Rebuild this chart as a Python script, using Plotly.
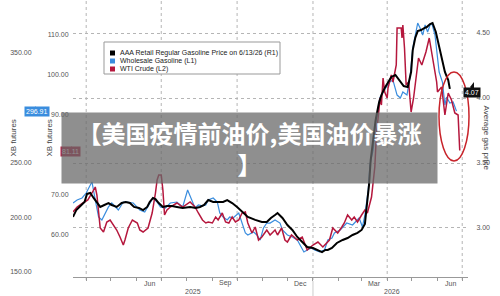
import plotly.graph_objects as go

# ---------------- data ----------------
aaa_dates = ["2025-03-16","2025-03-20","2025-03-25","2025-03-30","2025-04-02","2025-04-06","2025-04-10","2025-04-14",
             "2025-04-18","2025-04-23","2025-04-28","2025-05-02","2025-05-08","2025-05-14","2025-05-19","2025-05-24",
             "2025-05-29","2025-06-04","2025-06-09","2025-06-14","2025-06-17","2025-06-21","2025-06-24","2025-06-28",
             "2025-07-03","2025-07-08","2025-07-14","2025-07-20","2025-07-27","2025-08-05","2025-08-12","2025-08-17",
             "2025-08-22","2025-08-27","2025-09-02","2025-09-08","2025-09-14","2025-09-19","2025-09-25","2025-10-01",
             "2025-10-07","2025-10-14","2025-10-23","2025-10-31","2025-11-06","2025-11-11","2025-11-16","2025-11-19",
             "2025-11-25","2025-12-01","2025-12-07","2025-12-13","2025-12-19","2025-12-25","2026-01-01","2026-01-07",
             "2026-01-12","2026-01-16","2026-01-19","2026-01-24","2026-01-30","2026-02-06","2026-02-12","2026-02-18",
             "2026-02-24","2026-03-01","2026-03-05","2026-03-07","2026-03-10","2026-03-12","2026-03-15","2026-03-18",
             "2026-03-22","2026-03-25","2026-03-29","2026-04-02","2026-04-06","2026-04-11","2026-04-16","2026-04-21",
             "2026-04-26","2026-04-30","2026-05-02","2026-05-05","2026-05-08","2026-05-12","2026-05-16","2026-05-19",
             "2026-05-23","2026-05-26","2026-05-30","2026-06-03","2026-06-07","2026-06-10","2026-06-14","2026-06-16"]
aaa_vals = [3.085,3.138,3.169,3.200,3.262,3.269,3.231,3.200,
            3.162,3.177,3.192,3.177,3.162,3.192,3.200,3.192,
            3.162,3.154,3.138,3.162,3.200,3.231,3.223,3.192,
            3.162,3.169,3.169,3.162,3.154,3.162,3.154,3.162,
            3.177,3.215,3.200,3.200,3.200,3.215,3.192,3.162,
            3.123,3.085,3.062,3.046,3.046,3.077,3.100,3.115,
            3.077,3.023,2.985,2.931,2.892,2.854,2.846,2.831,
            2.815,2.831,2.831,2.846,2.885,2.908,2.923,2.946,
            2.962,2.985,3.031,3.154,3.331,3.523,3.662,3.831,
            3.962,4.023,4.077,4.123,4.162,4.177,4.138,4.092,
            4.085,4.200,4.369,4.462,4.515,4.523,4.538,4.546,
            4.569,4.577,4.508,4.400,4.292,4.200,4.138,4.07]

whs_dates = ["2025-03-16","2025-03-21","2025-03-27","2025-04-01","2025-04-06","2025-04-08","2025-04-12","2025-04-16",
             "2025-04-20","2025-04-24","2025-04-28","2025-05-02","2025-05-06","2025-05-10","2025-05-16","2025-05-20",
             "2025-05-28","2025-06-01","2025-06-05","2025-06-11","2025-06-17","2025-06-21","2025-06-26","2025-06-30",
             "2025-07-06","2025-07-12","2025-07-20","2025-07-27","2025-08-02","2025-08-07","2025-08-11","2025-08-15",
             "2025-08-20","2025-08-24","2025-08-27","2025-09-02","2025-09-07","2025-09-10","2025-09-14","2025-09-19",
             "2025-09-22","2025-09-26","2025-09-30","2025-10-03","2025-10-07","2025-10-11","2025-10-14","2025-10-21",
             "2025-10-25","2025-10-29","2025-11-02","2025-11-06","2025-11-10","2025-11-16","2025-11-22","2025-11-25",
             "2025-12-01","2025-12-07","2025-12-13","2025-12-18","2025-12-21","2025-12-25","2025-12-30","2026-01-03",
             "2026-01-09","2026-01-15","2026-01-19","2026-01-24","2026-01-27","2026-02-03","2026-02-11","2026-02-18",
             "2026-02-26","2026-03-02","2026-03-05","2026-03-09","2026-03-11","2026-03-15","2026-03-18","2026-03-21",
             "2026-03-23","2026-03-27","2026-04-01","2026-04-04","2026-04-08","2026-04-13","2026-04-17","2026-04-20",
             "2026-04-25","2026-04-29","2026-05-02","2026-05-06","2026-05-08","2026-05-12","2026-05-14","2026-05-17",
             "2026-05-20","2026-05-23","2026-05-25","2026-05-29","2026-06-01","2026-06-03","2026-06-07","2026-06-10",
             "2026-06-12","2026-06-16","2026-06-20","2026-06-24"]
whs_vals = [213.0,215.8,217.6,222.1,229.5,232.2,215.8,200.2,
            197.5,203.9,209.4,213.0,209.4,206.6,213.9,213.9,
            213.0,209.4,206.6,204.8,213.0,217.6,213.9,209.4,
            208.4,213.0,213.9,209.4,224.9,215.8,208.4,211.2,
            210.3,211.2,215.8,217.6,213.9,203.9,200.2,197.5,
            200.2,199.3,202.1,203.9,194.7,185.6,183.8,186.5,
            183.8,179.2,190.2,194.7,194.7,197.5,194.7,188.4,
            183.8,181.9,179.2,172.8,168.3,170.1,171.9,170.1,
            168.3,170.1,179.2,181.0,185.6,188.4,194.7,192.9,
            199.3,191.1,202.1,224.9,247.7,261.4,284.2,299.8,
            308.9,314.4,320.8,323.5,325.3,311.6,308.9,314.4,
            311.6,329.9,354.6,369.2,377.4,371.0,366.4,375.6,
            369.2,375.6,377.4,366.4,345.4,332.6,323.5,302.5,
            309.8,304.3,305.3,296.91]

wti_dates = ["2025-03-16","2025-03-21","2025-03-28","2025-04-03","2025-04-08","2025-04-12","2025-04-14","2025-04-16",
             "2025-04-18","2025-04-22","2025-04-26","2025-04-30","2025-05-04","2025-05-08","2025-05-12","2025-05-16",
             "2025-05-18","2025-05-22","2025-05-27","2025-06-02","2025-06-05","2025-06-09","2025-06-15","2025-06-20",
             "2025-06-24","2025-06-26","2025-06-28","2025-07-01","2025-07-03","2025-07-05","2025-07-08","2025-07-12",
             "2025-07-20","2025-07-27","2025-08-05","2025-08-11","2025-08-15","2025-08-20","2025-08-24","2025-08-27",
             "2025-09-01","2025-09-05","2025-09-08","2025-09-13","2025-09-17","2025-09-21","2025-09-25","2025-09-29",
             "2025-10-03","2025-10-07","2025-10-11","2025-10-14","2025-10-19","2025-10-23","2025-10-27","2025-10-31",
             "2025-11-06","2025-11-10","2025-11-16","2025-11-19","2025-11-24","2025-11-28","2025-12-01","2025-12-06",
             "2025-12-09","2025-12-13","2025-12-19","2025-12-25","2026-01-01","2026-01-07","2026-01-13","2026-01-18",
             "2026-01-21","2026-01-25","2026-01-27","2026-01-31","2026-02-05","2026-02-08","2026-02-12","2026-02-17",
             "2026-02-20","2026-02-24","2026-03-01","2026-03-05","2026-03-08","2026-03-13","2026-03-17","2026-03-19",
             "2026-03-22","2026-03-23","2026-03-25","2026-03-27","2026-03-29","2026-04-01","2026-04-02","2026-04-06",
             "2026-04-08","2026-04-12","2026-04-13","2026-04-18","2026-04-19","2026-04-20","2026-04-22","2026-04-24",
             "2026-04-27","2026-04-30","2026-05-03","2026-05-06","2026-05-09","2026-05-13","2026-05-18","2026-05-22",
             "2026-05-26","2026-05-31","2026-06-01","2026-06-06","2026-06-10","2026-06-14","2026-06-18","2026-06-22",
             "2026-06-26","2026-06-28"]
wti_vals = [65.75,67.0,68.0,68.75,70.5,72.0,70.0,65.5,
            61.75,60.75,63.25,63.75,62.5,61.25,59.5,57.5,
            58.75,61.75,63.75,63.0,61.25,60.75,61.75,65.5,
            70.5,73.75,75.0,75.0,71.25,65.0,66.25,67.0,
            68.0,67.0,68.25,67.0,65.5,63.75,63.0,63.25,
            63.0,64.5,63.75,65.5,63.25,63.0,64.5,63.25,
            63.75,65.5,65.75,63.0,60.5,62.0,58.75,59.5,
            61.25,60.0,61.25,60.0,61.75,58.75,58.25,60.0,
            59.5,58.75,59.5,56.25,57.5,58.25,57.0,58.25,
            58.75,61.75,61.25,60.5,62.0,63.0,65.0,63.75,
            64.5,63.25,65.0,66.25,65.5,69.5,77.0,85.5,
            91.25,94.25,92.5,99.25,95.75,94.25,96.75,100.0,
            98.25,102.5,111.75,111.75,109.25,112.5,106.75,97.5,
            98.25,90.75,94.25,100.0,104.25,102.5,105.75,109.25,
            104.25,98.25,95.75,97.0,90.0,95.5,93.75,90.5,
            90.0,81.11]

month_starts = ["2025-04-01","2025-05-01","2025-06-01","2025-07-01","2025-08-01","2025-09-01","2025-10-01",
                "2025-11-01","2025-12-01","2026-01-01","2026-02-01","2026-03-01","2026-04-01","2026-05-01",
                "2026-06-01","2026-07-01"]
quarter_starts = ["2025-04-01","2025-07-01","2025-10-01","2026-01-01","2026-04-01","2026-07-01"]
month_labels = ["Jun","Sep","Dec","Mar","Jun"]
month_label_dates = ["2025-06-17","2025-09-17","2025-12-17","2026-03-17","2026-06-17"]
year_labels = ["2025","2026"]
whs_ticks = [150, 200, 250, 350]        # 300.00 sits under the value badge
wti_ticks = [60, 70, 90, 100, 110]      # 80.00 sits under the value badge
aaa_ticks = [3.0, 3.5, 4.0, 4.5]

legend_names = ["AAA Retail Regular Gasoline Price on 6/13/26 (R1)", "Wholesale Gasoline (L1)", "WTI Crude (L2)"]

BLACK = "#000000"
BLUE = "#3a8dde"
RED = "#b5173d"
W, H = 500, 296
FONT = "Liberation Sans"

def px(x):
    return x / W

def py(y):
    return 1 - y / H

fig = go.Figure()
fig.add_trace(go.Scatter(x=whs_dates, y=whs_vals, yaxis="y", mode="lines",
                         line=dict(color=BLUE, width=1.2), name=legend_names[1]))
fig.add_trace(go.Scatter(x=wti_dates, y=wti_vals, yaxis="y2", mode="lines",
                         line=dict(color=RED, width=1.5), name=legend_names[2]))
fig.add_trace(go.Scatter(x=aaa_dates, y=aaa_vals, yaxis="y3", mode="lines",
                         line=dict(color=BLACK, width=2), name=legend_names[0]))

tickfont = dict(family=FONT, size=7, color="#555")
ydom = [py(277), py(2)]

fig.update_layout(
    width=W, height=H, margin=dict(l=0, r=0, t=0, b=0),
    paper_bgcolor="white", plot_bgcolor="white", showlegend=False,
    xaxis=dict(domain=[px(73), px(468)], type="date", range=["2025-03-16", "2026-07-08"],
               tickmode="array", tickvals=month_starts, ticktext=[""] * len(month_starts),
               ticks="outside", ticklen=3, tickcolor="#999", showline=True, linecolor="#999",
               linewidth=1, showgrid=False, zeroline=False),
    yaxis=dict(domain=ydom, range=[145.4, 396.6], anchor="free", position=px(35), side="left",
               tickmode="array", tickvals=whs_ticks, tickformat=".2f",
               ticks="outside", ticklen=2, tickcolor="rgba(0,0,0,0)", showgrid=False,
               zeroline=False, showline=False, tickfont=tickfont, automargin=False),
    yaxis2=dict(overlaying="y", anchor="x", side="left", range=[49.5, 118.25],
                tickmode="array", tickvals=wti_ticks, tickformat=".2f",
                ticks="outside", ticklen=2, tickcolor="rgba(0,0,0,0)", showgrid=False,
                zeroline=False, showline=False, tickfont=tickfont, automargin=False),
    yaxis3=dict(overlaying="y", anchor="x", side="right", range=[2.623, 4.7385],
                tickmode="array", tickvals=aaa_ticks, tickformat=".2f",
                ticks="outside", ticklen=6, tickcolor="rgba(0,0,0,0)", showgrid=True,
                gridcolor="#b5b5b5", griddash="dot", gridwidth=1,
                zeroline=False, showline=False, tickfont=tickfont, automargin=False),
)

shapes = []
for d in quarter_starts:
    shapes.append(dict(type="line", xref="x", yref="paper", x0=d, x1=d, y0=py(280), y1=1,
                       line=dict(color="#b5b5b5", width=1, dash="dot"), layer="below"))
shapes.append(dict(type="line", xref="x", yref="paper", x0="2026-01-01", x1="2026-01-01",
                   y0=py(296), y1=py(281), line=dict(color="#cccccc", width=1)))
# legend box and swatches
shapes.append(dict(type="rect", xref="paper", yref="paper", x0=px(104), x1=px(280), y0=py(74), y1=py(42),
                   line=dict(color="#999", width=1), fillcolor="white"))
for i, c in enumerate([BLACK, BLUE, RED]):
    yc = 53 + 8 * i
    shapes.append(dict(type="rect", xref="paper", yref="paper", x0=px(110), x1=px(115),
                       y0=py(yc + 2.5), y1=py(yc - 2.5), line=dict(width=0), fillcolor=c))
# badge pointers
shapes.append(dict(type="path", xref="paper", yref="paper", fillcolor=BLUE, line=dict(width=0),
                   path=f"M {px(35)} {py(106)} L {px(39)} {py(111)} L {px(35)} {py(116)} Z"))
shapes.append(dict(type="path", xref="paper", yref="paper", fillcolor=RED, line=dict(width=0),
                   path=f"M {px(71)} {py(146)} L {px(75)} {py(151)} L {px(71)} {py(156)} Z"))
shapes.append(dict(type="path", xref="paper", yref="paper", fillcolor="#111", line=dict(width=0),
                   path=f"M {px(474)} {py(82)} L {px(470)} {py(87)} L {px(474)} {py(92)} Z"))
# red ellipse
shapes.append(dict(type="circle", xref="paper", yref="paper", x0=px(439), x1=px(469), y0=py(161), y1=py(72),
                   line=dict(color="#c8242b", width=1.5)))
fig.update_layout(shapes=shapes)

ann = []
for lab, d in zip(month_labels, month_label_dates):
    ann.append(dict(text=lab, x=d, xref="x", y=py(283), yref="paper", showarrow=False,
                    xanchor="center", yanchor="middle", font=dict(family=FONT, size=7, color="#555")))
for lab, xx in zip(year_labels, [193, 392]):
    ann.append(dict(text=lab, x=px(xx), xref="paper", y=py(291), yref="paper", showarrow=False,
                    xanchor="center", yanchor="middle", font=dict(family=FONT, size=7, color="#555")))
for i, name in enumerate(legend_names):
    ann.append(dict(text=name, x=px(118), xref="paper", y=py(53 + 8 * i), yref="paper", showarrow=False,
                    xanchor="left", yanchor="middle", font=dict(family=FONT, size=7, color="#222")))
ann.append(dict(text="XB futures", x=px(6), y=py(138), xref="paper", yref="paper", textangle=-90,
                showarrow=False, font=dict(family=FONT, size=8, color="#444")))
ann.append(dict(text="XB futures", x=px(42), y=py(138), xref="paper", yref="paper", textangle=-90,
                showarrow=False, font=dict(family=FONT, size=8, color="#444")))
ann.append(dict(text="Average gas price", x=px(493), y=py(138), xref="paper", yref="paper", textangle=90,
                showarrow=False, font=dict(family=FONT, size=8, color="#444")))
# value badges
ann.append(dict(text=f"{whs_vals[-1]:.2f}", x=px(24), y=py(111), xref="paper", yref="paper", showarrow=False,
                bgcolor=BLUE, borderpad=1, font=dict(family=FONT, size=7, color="white")))
ann.append(dict(text=f"{wti_vals[-1]:.2f}", x=px(60), y=py(151), xref="paper", yref="paper", showarrow=False,
                bgcolor=RED, borderpad=1, font=dict(family=FONT, size=7, color="white")))
ann.append(dict(text=f"{aaa_vals[-1]:.2f}", x=px(481), y=py(87), xref="paper", yref="paper", showarrow=False,
                bgcolor="#111", borderpad=1, font=dict(family=FONT, size=7, color="white")))
# overlay banner
ann.append(dict(text="<b>【美国疫情前油价,美国油价暴涨</b><br><b>】</b>", x=px(249.5), y=py(148),
                xref="paper", yref="paper", xanchor="center", yanchor="middle", showarrow=False,
                width=375, height=70, borderpad=0, bgcolor="rgba(105,105,105,0.75)", align="center",
                valign="middle", font=dict(family="Noto Sans CJK SC", size=24, color="white")))
fig.update_layout(annotations=ann)

fig.write_html("out.html")
